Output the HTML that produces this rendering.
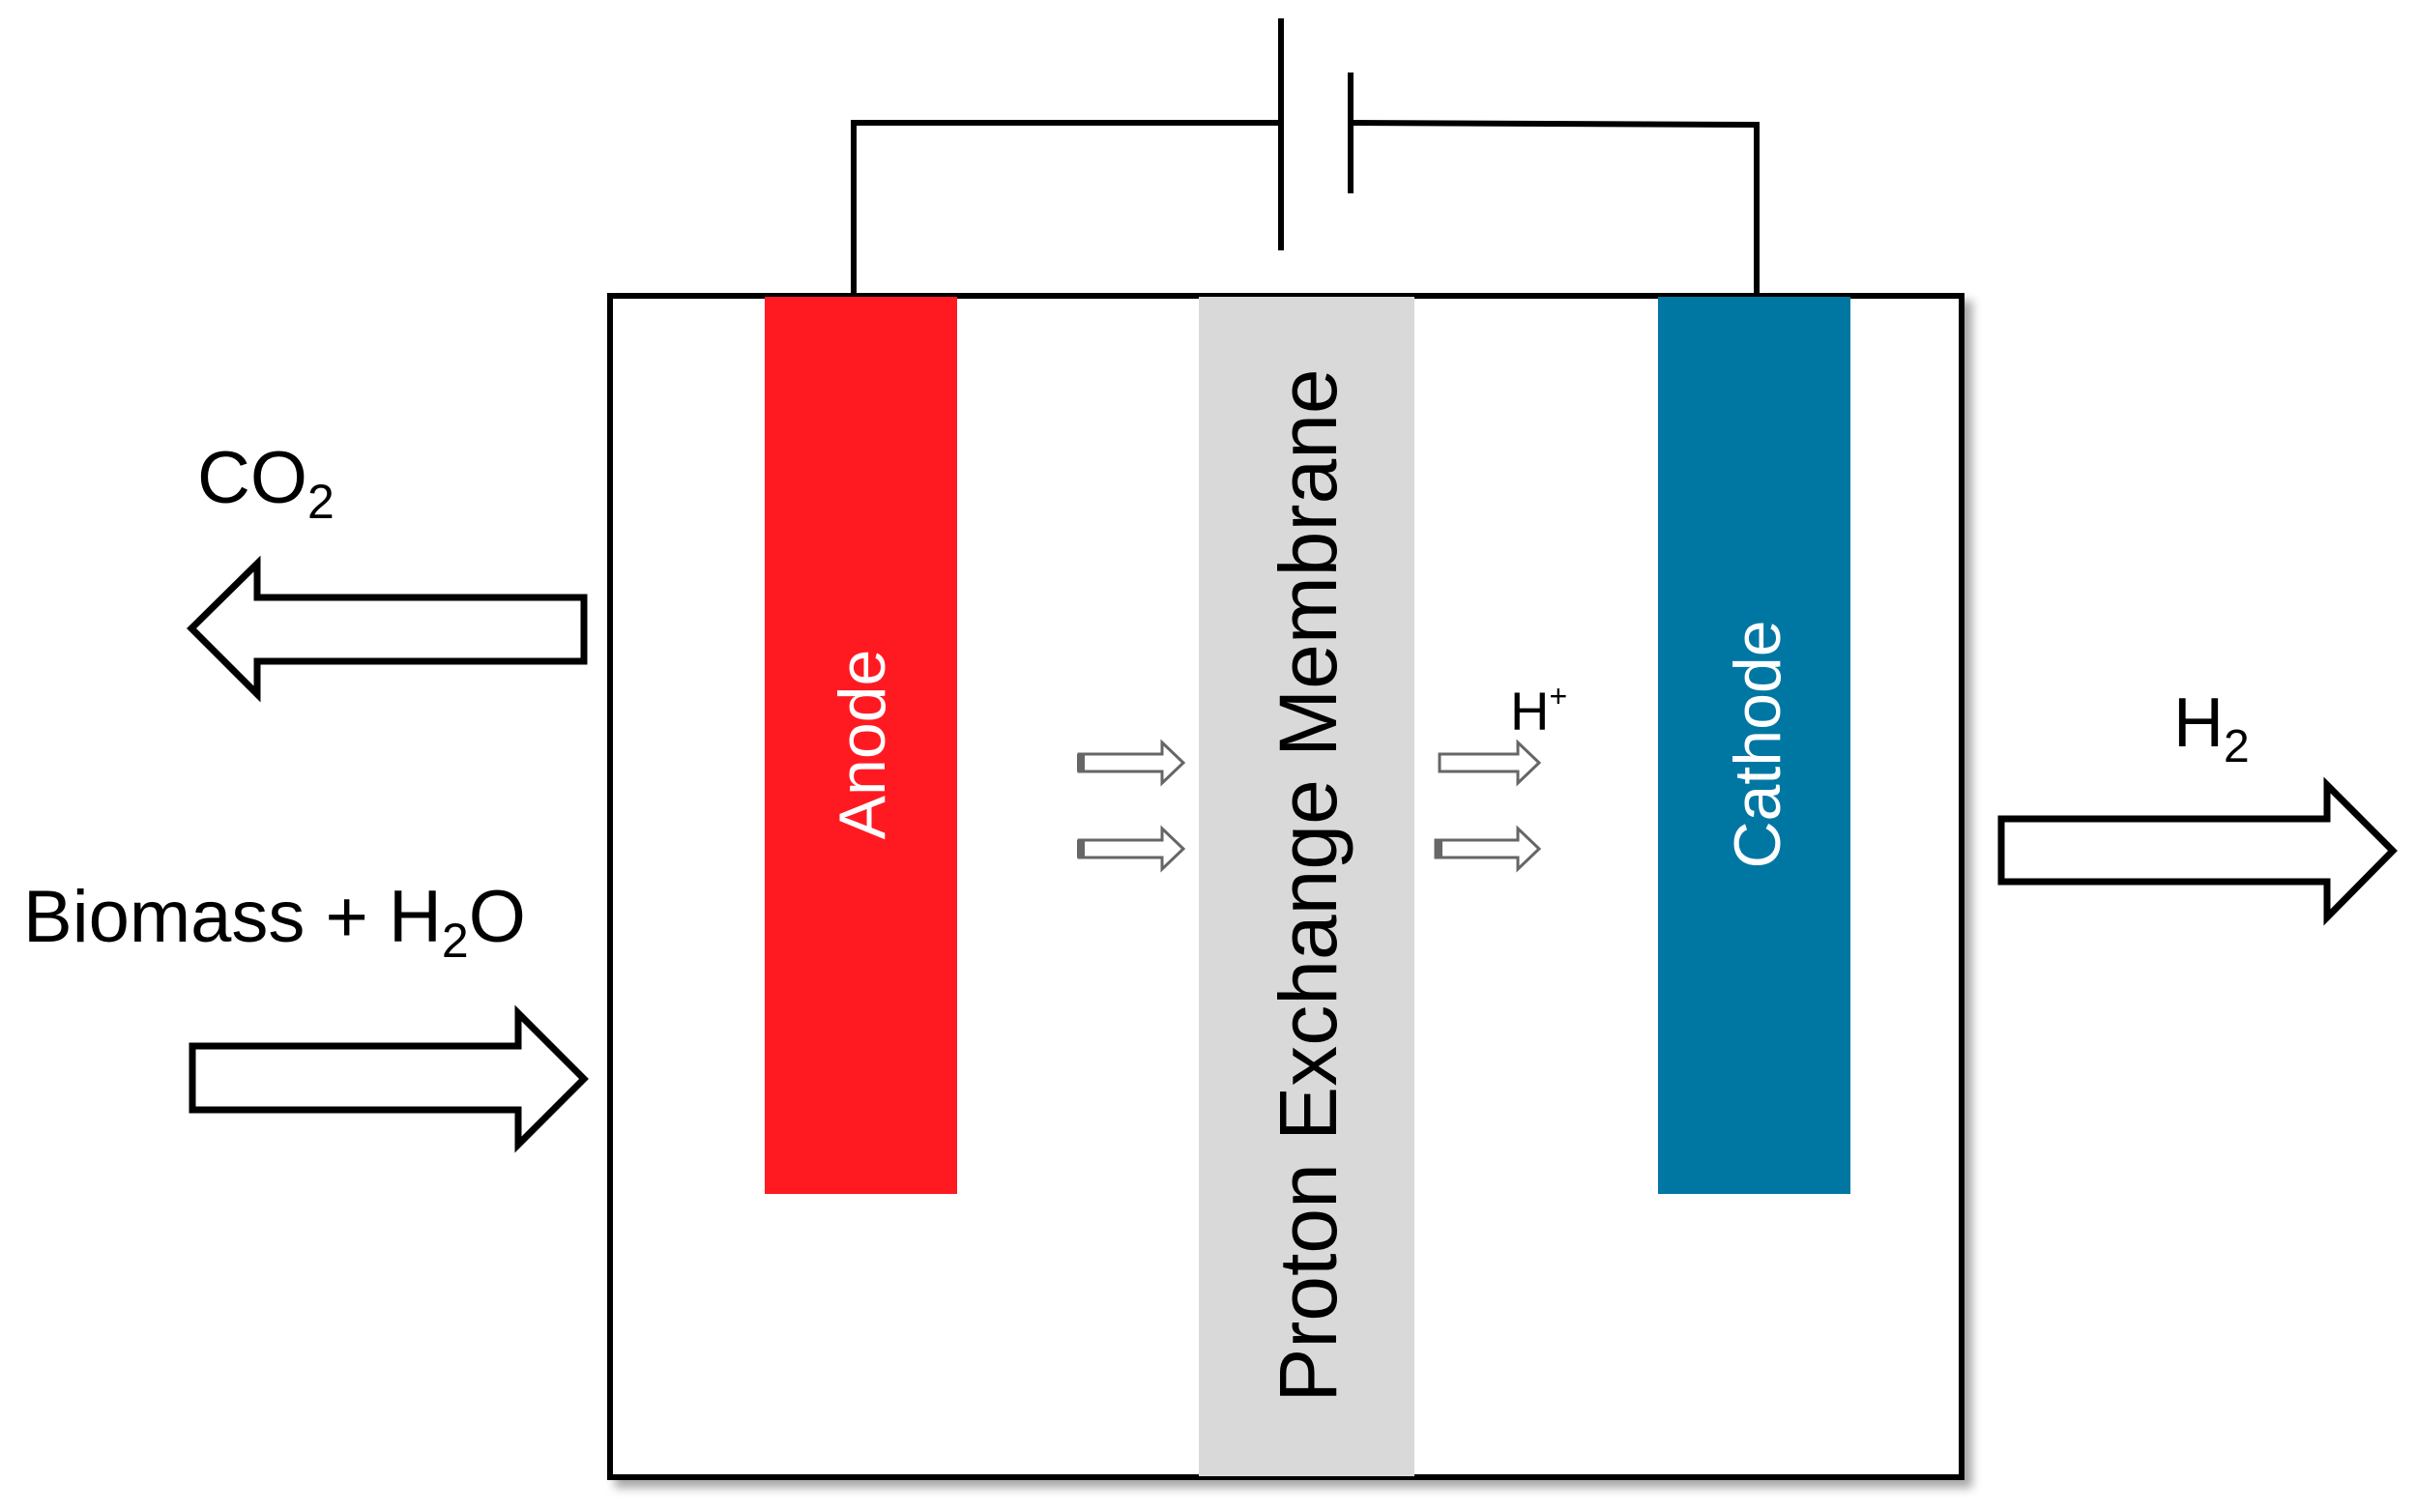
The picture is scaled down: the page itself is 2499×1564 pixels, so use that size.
<!DOCTYPE html>
<html><head><meta charset="utf-8"><style>
html,body{margin:0;padding:0;background:#fff;}
svg{display:block;}
text{font-family:"Liberation Sans",Arial,sans-serif;}
</style></head><body>
<svg width="2499" height="1564" viewBox="0 0 2499 1564" xmlns="http://www.w3.org/2000/svg">
<defs>
<filter id="sh" x="-5%" y="-5%" width="115%" height="115%"><feDropShadow dx="8" dy="8" stdDeviation="5" flood-color="#000" flood-opacity="0.35"/></filter>
</defs>
<polyline points="883,303 883,127 1325,127" fill="none" stroke="#000" stroke-width="6"/>
<polyline points="1396,127 1817,129 1817,303" fill="none" stroke="#000" stroke-width="6"/>
<line x1="1325" y1="19" x2="1325" y2="259" stroke="#000" stroke-width="6"/>
<line x1="1397" y1="75" x2="1397" y2="200" stroke="#000" stroke-width="6"/>
<rect x="631" y="306" width="1398" height="1222" fill="#fff" stroke="#000" stroke-width="6" filter="url(#sh)"/>
<rect x="791" y="307" width="199" height="928" fill="#ff1a22"/>
<rect x="1240" y="307" width="223" height="1220" fill="#d9d9d9"/>
<rect x="1715" y="307" width="199" height="928" fill="#0077a3"/>
<text transform="translate(915,770) rotate(-90)" text-anchor="middle" font-size="68" fill="#fff">Anode</text>
<text transform="translate(1841,770) rotate(-90)" text-anchor="middle" font-size="68" fill="#fff">Cathode</text>
<text transform="translate(1382,916) rotate(-90)" text-anchor="middle" font-size="84" fill="#000">Proton Exchange Membrane</text>
<g fill="#fff" stroke="#666" stroke-width="3">
<polygon points="1116,780 1202,780 1202,768 1224,789 1202,810 1202,798 1116,798"/>
<polygon points="1116,869 1202,869 1202,857 1224,878 1202,899 1202,887 1116,887"/>
<polygon points="1489,780 1570,780 1570,768 1592,789 1570,810 1570,798 1489,798"/>
<polygon points="1485,869 1570,869 1570,857 1592,878 1570,899 1570,887 1485,887"/>
</g>
<g fill="#666">
<rect x="1114" y="780" width="8" height="18"/><rect x="1114" y="869" width="8" height="18"/>
<rect x="1484" y="869" width="8" height="18"/>
</g>
<text x="1562" y="755" font-size="56">H<tspan font-size="32" dy="-24">+</tspan></text>
<g fill="#fff" stroke="#000" stroke-width="7" stroke-linejoin="miter">
<polygon points="604,618 266,618 266,583 198,650 266,718 266,684 604,684"/>
<polygon points="199,1082 536,1082 536,1048 604,1116 536,1184 536,1148 199,1148"/>
<polygon points="2070,847 2407,847 2407,812 2475,880 2407,949 2407,912 2070,912"/>
</g>
<text x="204" y="520" font-size="76">CO<tspan font-size="50" dy="16">2</tspan></text>
<text x="24" y="974" font-size="76">Biomass + H<tspan font-size="50" dy="16">2</tspan><tspan dy="-16">O</tspan></text>
<text x="2248" y="772" font-size="72">H<tspan font-size="48" dy="16">2</tspan></text>
</svg>
</body></html>
